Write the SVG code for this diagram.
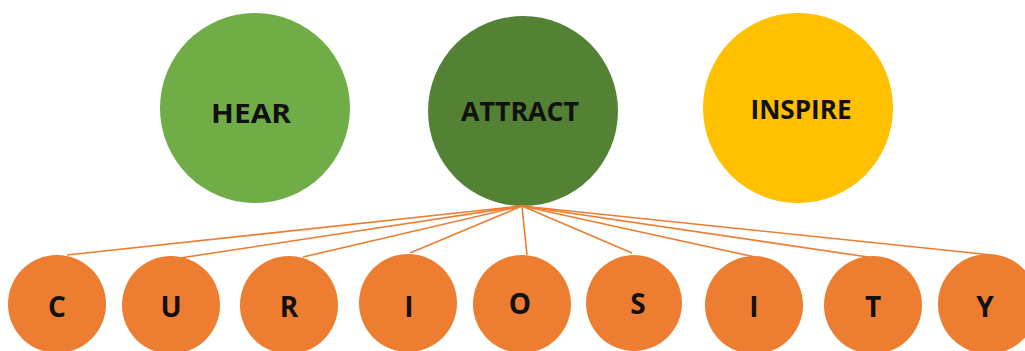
<svg xmlns="http://www.w3.org/2000/svg" width="1025" height="351" viewBox="0 0 1025 351">
<style>
.big{font-family:"Open Sans","Liberation Sans",sans-serif;font-weight:700;font-size:27px;fill:#111;text-anchor:middle}
.let{font-family:"Open Sans","Liberation Sans",sans-serif;font-weight:700;font-size:28px;fill:#111;text-anchor:middle}
.orb{fill:#ED7D31}
.ln{stroke:#ED7D31;stroke-width:1.6;fill:none}
</style>
<rect width="1025" height="351" fill="#fff"/>
<g id="hear"><circle cx="255" cy="108" r="95" fill="#70AD47"/><text class="big" x="251" y="123" textLength="80" lengthAdjust="spacingAndGlyphs">HEAR</text></g>
<g id="attract"><circle cx="523" cy="111" r="95" fill="#548235"/><text class="big" x="520" y="121" textLength="118" lengthAdjust="spacingAndGlyphs">ATTRACT</text></g>
<g id="inspire"><circle cx="798" cy="108" r="95" fill="#FFC000"/><text class="big" x="801" y="119" textLength="101" lengthAdjust="spacingAndGlyphs">INSPIRE</text></g>
<g id="connectors">
<line class="ln" x1="522" y1="206" x2="67" y2="255"/>
<line class="ln" x1="522" y1="206" x2="180" y2="258"/>
<line class="ln" x1="522" y1="206" x2="303" y2="257"/>
<line class="ln" x1="522" y1="206" x2="410" y2="253"/>
<line class="ln" x1="522" y1="206" x2="527" y2="255"/>
<line class="ln" x1="522" y1="206" x2="632" y2="253"/>
<line class="ln" x1="522" y1="206" x2="755" y2="257"/>
<line class="ln" x1="522" y1="206" x2="868" y2="257"/>
<line class="ln" x1="522" y1="206" x2="992" y2="255"/>
</g>
<g id="c1"><circle class="orb" cx="57" cy="304" r="49"/><text class="let" x="57" y="317">C</text></g>
<g id="c2"><circle class="orb" cx="171" cy="305" r="49"/><text class="let" x="171" y="317">U</text></g>
<g id="c3"><circle class="orb" cx="289" cy="305" r="49"/><text class="let" x="289" y="317">R</text></g>
<g id="c4"><circle class="orb" cx="408" cy="303" r="49"/><text class="let" x="409" y="317">I</text></g>
<g id="c5"><circle class="orb" cx="522" cy="304" r="49"/><text class="let" x="520" y="314">O</text></g>
<g id="c6"><circle class="orb" cx="634" cy="303" r="48"/><text class="let" x="638" y="314">S</text></g>
<g id="c7"><circle class="orb" cx="754" cy="305" r="49"/><text class="let" x="754" y="317">I</text></g>
<g id="c8"><circle class="orb" cx="873" cy="305" r="49"/><text class="let" x="873" y="317">T</text></g>
<g id="c9"><circle class="orb" cx="988" cy="304" r="50"/><text class="let" x="985" y="317">Y</text></g>
</svg>
